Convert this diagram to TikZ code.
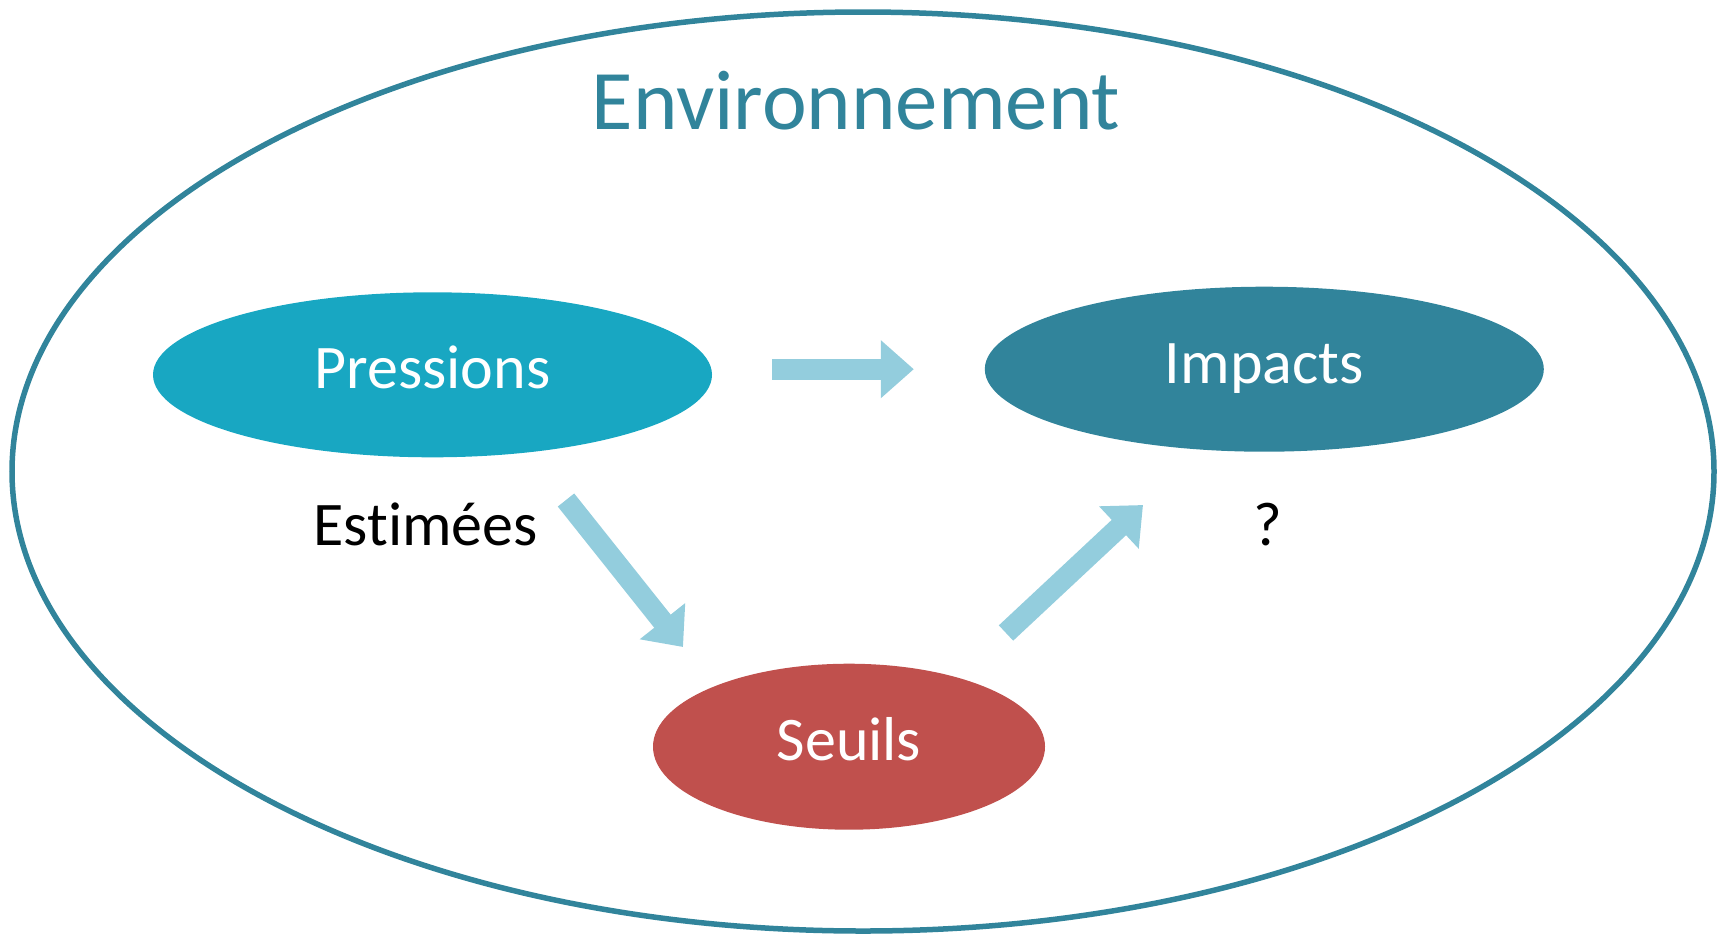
\documentclass[tikz,border=0pt]{standalone}
\usepackage{fontspec}
\setmainfont[RawFeature=-liga]{Carlito}
\usetikzlibrary{arrows.meta,shapes.geometric}
\definecolor{envblue}{HTML}{31849B}
\definecolor{presblue}{HTML}{18A7C2}
\definecolor{seuilred}{HTML}{C0504D}
\definecolor{flowblue}{HTML}{93CDDD}
\begin{document}
\begin{tikzpicture}[x=0.5pt,y=-0.5pt,
  blob/.style={ellipse, inner sep=0pt, text=white, font=\fontsize{31}{36}\selectfont,
    text height=21pt, text depth=7pt, minimum width=279.5pt, minimum height=82.5pt},
  flow/.style={draw=flowblue, line width=10.5pt, -{Triangle[length=16.5pt,width=28pt]}},
  plain/.style={font=\fontsize{31}{36}\selectfont, anchor=base}]
\useasboundingbox (0,0) rectangle (1723,933);
% outer ellipse
\node[ellipse, draw=envblue, line width=2.75pt, minimum width=851pt, minimum height=459.5pt] (env) at (863,471.5) {};
\node[anchor=base, text=envblue, font=\fontsize{42.4}{50}\selectfont] (title) at (856,129.7) {Environnement};
% the three ellipses
\node[blob, fill=presblue] (pres) at (432.5,374.8) {Pressions};
\node[blob, fill=envblue] (imp) at (1264.3,369.2) {Impacts};
\node[blob, fill=seuilred, minimum width=196pt, minimum height=83pt] (seuil) at (849,746.7) {Seuils};
\node[plain] (est) at (425.8,545) {Estimées};
\node[plain] (quest) at (1268,545) {?};
% arrows
\coordinate (a1) at (566,500);
\coordinate (b1) at (683,647);
\coordinate (a2) at (1006,633);
\coordinate (b2) at (1143,505);
\draw[flow, shorten <=30pt, shorten >=35.3pt] (pres.east |- imp.west) -- (imp.west);
\draw[flow] (a1) -- (b1);
\draw[flow] (a2) -- (b2);
\end{tikzpicture}
\end{document}
